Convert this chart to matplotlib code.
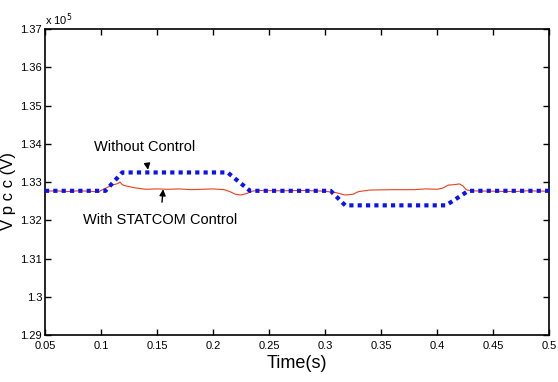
import matplotlib
matplotlib.use("Agg")
import matplotlib.pyplot as plt
from matplotlib.ticker import FixedLocator, FixedFormatter

# data (Vpcc in units of 1e5 V)
t_without = [0.05, 0.104, 0.119, 0.213, 0.233, 0.305, 0.318, 0.408, 0.428, 0.5]
v_without = [1.3277, 1.3277, 1.3325, 1.3325, 1.3277, 1.3277, 1.3239, 1.3239, 1.3277, 1.3277]

t_with = [0.05, 0.06, 0.07, 0.08, 0.09, 0.098, 0.10, 0.105, 0.11, 0.115, 0.117, 0.119,
          0.122, 0.13, 0.14, 0.15, 0.16, 0.17, 0.18, 0.19, 0.20, 0.21, 0.215, 0.22,
          0.225, 0.23, 0.235, 0.24, 0.26, 0.28, 0.30, 0.31, 0.318, 0.325, 0.33, 0.34,
          0.36, 0.38, 0.39, 0.40, 0.405, 0.41, 0.415, 0.42, 0.423, 0.426, 0.43, 0.45,
          0.47, 0.48, 0.5]
v_with = [1.3276, 1.3277, 1.3275, 1.3277, 1.3276, 1.3274, 1.3278, 1.3285, 1.3292, 1.3296,
          1.3300, 1.3293, 1.3290, 1.3285, 1.3281, 1.3282, 1.3281, 1.3282, 1.3280, 1.3281,
          1.3282, 1.3280, 1.3275, 1.3268, 1.3266, 1.3270, 1.3276, 1.3278, 1.3277, 1.3278,
          1.3276, 1.3272, 1.3266, 1.3268, 1.3275, 1.3279, 1.3280, 1.3280, 1.3282, 1.3281,
          1.3284, 1.3292, 1.3293, 1.3295, 1.3290, 1.3280, 1.3277, 1.3276, 1.3275, 1.3277,
          1.3276]

xticks = [0.05, 0.1, 0.15, 0.2, 0.25, 0.3, 0.35, 0.4, 0.45, 0.5]
xticklabels = ["0.05", "0.1", "0.15", "0.2", "0.25", "0.3", "0.35", "0.4", "0.45", "0.5"]
yticks = [1.29, 1.30, 1.31, 1.32, 1.33, 1.34, 1.35, 1.36, 1.37]
yticklabels = ["1.29", "1.3", "1.31", "1.32", "1.33", "1.34", "1.35", "1.36", "1.37"]

plt.rcParams['font.family'] = ['Liberation Sans', 'DejaVu Sans']

fig = plt.figure(figsize=(5.58, 3.82), dpi=100)
ax = fig.add_axes([0.0806, 0.123, 0.9034, 0.801])

ax.plot(t_with, v_with, color='#e8401c', lw=0.8, zorder=2)
ax.plot(t_without, v_without, color='#0a14f0', lw=3.0, linestyle=(0, (1, 1)),
        dash_capstyle='butt', zorder=3)

ax.set_xlim(0.05, 0.5)
ax.set_ylim(1.29, 1.37)
ax.xaxis.set_major_locator(FixedLocator(xticks))
ax.xaxis.set_major_formatter(FixedFormatter(xticklabels))
ax.yaxis.set_major_locator(FixedLocator(yticks))
ax.yaxis.set_major_formatter(FixedFormatter(yticklabels))
ax.tick_params(direction='in', top=True, right=True, length=4, width=1,
               labelsize=8, pad=2)
ax.tick_params(axis='x', pad=4)
for s in ax.spines.values():
    s.set_linewidth(1.2)

ax.set_xlabel("Time(s)", fontsize=13, labelpad=3)
ax.set_ylabel("V p c c (V)", fontsize=12, labelpad=0)
ax.yaxis.set_label_coords(-0.057, 0.47)
ax.text(0.0, 1.005, "x 10$^5$", transform=ax.transAxes, fontsize=8, ha='left', va='bottom')

ax.annotate("Without Control", xy=(0.142, 1.3332), xytext=(0.139, 1.3391),
            ha='center', va='center', fontsize=10.5,
            arrowprops=dict(arrowstyle='-|>', color='black', lw=1, shrinkA=6, shrinkB=0,
                            mutation_scale=9))
ax.annotate("With STATCOM Control", xy=(0.1555, 1.3281), xytext=(0.153, 1.3200),
            ha='center', va='center', fontsize=10.5,
            arrowprops=dict(arrowstyle='-|>', color='black', lw=1, shrinkA=6, shrinkB=0,
                            mutation_scale=9))

fig.savefig("out.png", dpi=100)
